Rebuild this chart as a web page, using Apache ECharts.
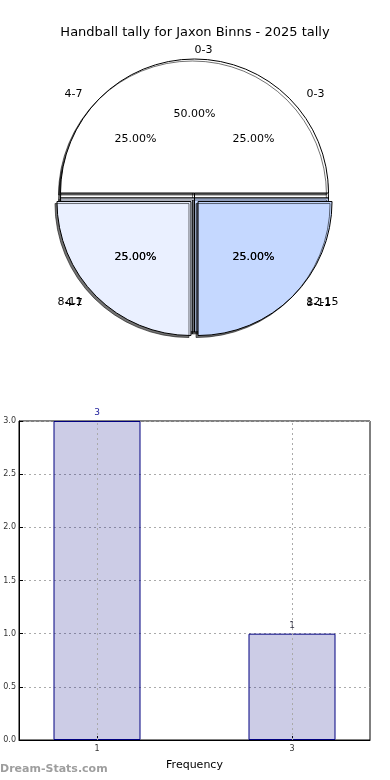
<!DOCTYPE html>
<html>
<head>
<meta charset="utf-8">
<script src="https://cdn.jsdelivr.net/npm/echarts@6/dist/echarts.min.js"></script>
<style>
html,body{margin:0;padding:0;background:#fff;}
#main{width:390px;height:780px;}
</style>
</head>
<body>
<div id="main"></div>
<script>
// ---- data ----
const chartTitle = 'Handball tally for Jaxon Binns - 2025 tally';
const pieALabels = ['0-3', '4-7', '8-11', '12-15'];
const pieAValues = [1, 1, 1, 1];
const pieBLabels = ['0-3', '4-7', '8-11'];
const pieBValues = [2, 1, 1];
const pieAColors = ['#ffffff', '#ffffff', '#eaf0ff', '#c5d8ff'];
const pieBColors = ['#ffffff', '#eaf0ff', '#c5d8ff'];
const barCategories = ['1', '3'];
const barValues = [3, 1];
const barLabelColors = ['#1a1a9a', '#333344'];
const xAxisName = 'Frequency';
const watermark = 'Dream-Stats.com';

const FONT = 'DejaVu Sans';
const R = 134;
const CENTER = [194.5, 198];

function pieData(labels, values, colors, selected, len2) {
  return labels.map((n, i) => ({
    name: n, value: values[i], selected: selected,
    itemStyle: { color: colors[i] },
    labelLine: { show: false, length2: len2[i] }
  }));
}
const pieCommon = {
  type: 'pie', center: CENTER, startAngle: 0, clockwise: false,
  animation: false, silent: true, avoidLabelOverlap: false,
  labelLayout: { hideOverlap: false },
  itemStyle: { borderColor: '#000', borderWidth: 1, shadowColor: 'rgba(0,0,0,0.55)', shadowBlur: 0, shadowOffsetX: -2, shadowOffsetY: 2 },
  emphasis: { disabled: true }
};
const outerLabel = {
  show: true, position: 'outside', formatter: '{b}', color: '#000',
  fontFamily: FONT, fontSize: 11, distanceToLabelLine: 0
};
const pctCommon = {
  type: 'pie', center: CENTER, radius: [0, R * 1.2], startAngle: 0, clockwise: false,
  animation: false, silent: true, z: 10,
  labelLayout: { hideOverlap: false },
  itemStyle: { color: 'rgba(0,0,0,0)', borderWidth: 0 },
  label: { show: true, position: 'inside', color: '#000', fontFamily: FONT, fontSize: 11,
    formatter: p => p.percent.toFixed(2) + '%' },
  labelLine: { show: false },
  emphasis: { disabled: true }
};

const chart = echarts.init(document.getElementById('main'), null, { renderer: 'canvas' });
chart.setOption({
  animation: false,
  title: { text: chartTitle, left: 'center', top: 21,
    textStyle: { fontFamily: FONT, fontSize: 13, fontWeight: 'normal', color: '#000' } },
  grid: { left: 19, right: 20, top: 421, bottom: 40, show: true, borderColor: '#000', borderWidth: 1, backgroundColor: 'transparent' },
  xAxis: {
    type: 'value', min: -0.4, max: 1.4,
    name: xAxisName, nameLocation: 'middle', nameGap: 20,
    nameTextStyle: { fontFamily: FONT, fontSize: 11, color: '#000' },
    axisLine: { show: true, onZero: false, lineStyle: { color: '#000' } },
    axisTick: { show: true, inside: true, length: 4, customValues: [0, 1], lineStyle: { color: '#000' } },
    axisLabel: { customValues: [0, 1], formatter: v => barCategories[Math.round(v)] ?? '',
      fontFamily: FONT, fontSize: 8, color: '#333', margin: 5 },
    splitLine: { show: false }
  },
  yAxis: {
    type: 'value', min: 0, max: 3, interval: 0.5,
    axisLine: { show: true, onZero: false, lineStyle: { color: '#000' } },
    axisTick: { show: true, inside: true, length: 4, lineStyle: { color: '#000' } },
    axisLabel: { formatter: v => v.toFixed(1), fontFamily: FONT, fontSize: 8, color: '#333', margin: 3 },
    splitLine: { show: true, lineStyle: { type: [2, 3], color: '#aaa', width: 1 } }
  },
  graphic: [{
    type: 'text', left: 0, top: 764,
    style: { text: watermark, fill: '#9e9e9e', fontFamily: FONT, fontSize: 11, fontWeight: 'bold' }
  }],
  series: [
    Object.assign({}, pieCommon, {
      name: 'pieA', radius: [0, R], z: 2,
      data: pieData(pieALabels, pieAValues, pieAColors, false, [8, 8, 8, 8]),
      label: outerLabel, labelLine: { show: false, length: 13, length2: 8 }
    }),
    Object.assign({}, pieCommon, {
      name: 'pieB', radius: [0, R], z: 3,
      selectedMode: 'multiple', selectedOffset: 5,
      data: pieData(pieBLabels, pieBValues, pieBColors, true, [0, 7, 7]),
      label: outerLabel, labelLine: { show: false, length: 9, length2: 7 }
    }),
    Object.assign({}, pctCommon, { name: 'pctA', data: pieALabels.map((n, i) => ({ name: n, value: pieAValues[i] })) }),
    Object.assign({}, pctCommon, { name: 'pctB', data: pieBLabels.map((n, i) => ({ name: n, value: pieBValues[i] })) }),
    {
      type: 'bar', name: 'count', barWidth: 87,
      data: barValues.map((v, i) => ({
        value: [i, v],
        label: { color: barLabelColors[i] }
      })),
      itemStyle: { color: 'rgba(0,0,128,0.2)', borderColor: '#000080', borderWidth: 1 },
      label: { show: true, position: 'top', distance: 4, fontFamily: FONT, fontSize: 9,
        formatter: p => String(p.value[1]) },
      markLine: {
        silent: true, symbol: ['none', 'none'], label: { show: false },
        lineStyle: { type: [2, 3], color: '#aaa', width: 1 },
        data: barCategories.map((c, i) => ({ xAxis: i }))
      }
    }
  ]
});
</script>
</body>
</html>
